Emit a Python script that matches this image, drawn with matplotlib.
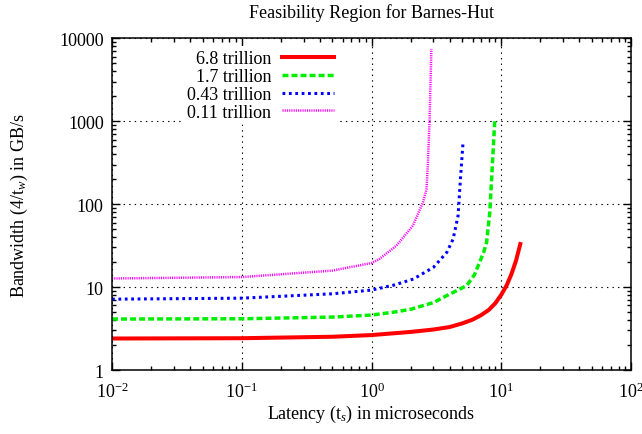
import matplotlib
matplotlib.use("Agg")
import matplotlib.pyplot as plt
from matplotlib.ticker import LogLocator, FixedLocator, NullFormatter

plt.rcParams['font.family'] = ['Liberation Serif', 'DejaVu Serif']
plt.rcParams['mathtext.fontset'] = 'custom'
plt.rcParams['mathtext.rm'] = 'Liberation Serif'
plt.rcParams['mathtext.it'] = 'Liberation Serif:italic'
plt.rcParams['lines.scale_dashes'] = False

# values (latency in microseconds, bandwidth in GB/s)
x_68 = [0.01, 0.1, 0.5, 1, 2, 3, 4, 5, 6, 7, 8, 9, 10, 11, 12, 13, 14]
y_68 = [2.40, 2.42, 2.52, 2.64, 2.88, 3.08, 3.3, 3.65, 4.05, 4.6, 5.3, 6.4, 8.1, 10.5, 14.5, 21, 33]

x_17 = [0.01, 0.1, 0.5, 1, 1.5, 2, 3, 3.8, 4.5, 5.4, 6.2, 6.8, 7.3, 7.7, 8.15, 8.55, 8.9]
y_17 = [4.12, 4.15, 4.35, 4.6, 5.0, 5.4, 6.5, 7.9, 9.0, 10.4, 14, 19.9, 26, 34.6, 79, 317, 1000]

x_043 = [0.01, 0.1, 0.5, 1, 1.5, 2.1, 3.0, 3.8, 4.25, 4.64, 4.84, 5.07]
y_043 = [7.15, 7.35, 8.3, 9.2, 10.6, 12.5, 17.3, 26.2, 37.9, 72, 200, 553]

x_011 = [0.01, 0.1, 0.5, 1, 1.15, 1.55, 2.08, 2.49, 2.65, 2.72, 2.80, 2.89]
y_011 = [12.7, 13.2, 15.8, 19.5, 21.8, 31.4, 54.8, 105, 150, 317, 1050, 7400]

labels = ['6.8 trillion', '1.7 trillion', '0.43 trillion', '0.11 trillion']

fs = 13

fig = plt.figure(figsize=(6.42, 4.35), dpi=100)
ax = fig.add_axes([0.1745, 0.147, 0.8085, 0.763])

ax.plot(x_68, y_68, '-', color='#ff0000', lw=2.9, label=labels[0])
ax.plot(x_17, y_17, color='#00ee00', lw=2.5, dashes=(4.3, 2.2), label=labels[1])
ax.plot(x_043, y_043, color='#0000ff', lw=2.2, dashes=(2.0, 2.6), label=labels[2])
ax.plot(x_011, y_011, color='#ff00ff', lw=1.8, dashes=(0.8, 0.8), label=labels[3])

ax.set_xscale('log')
ax.set_yscale('log')
ax.set_xlim(0.01, 100)
ax.set_ylim(1, 10000)

ax.xaxis.set_major_locator(LogLocator(base=10, numticks=10))
ax.xaxis.set_minor_locator(LogLocator(base=10, subs=range(2, 10), numticks=20))
ax.xaxis.set_minor_formatter(NullFormatter())
ax.yaxis.set_major_locator(FixedLocator([1, 10, 100, 1000, 10000]))
ax.yaxis.set_minor_locator(LogLocator(base=10, subs=range(2, 10), numticks=20))
ax.yaxis.set_minor_formatter(NullFormatter())
ax.set_yticklabels(['1', '10', '100', '1000', '10000'])

ax.tick_params(which='both', direction='in', top=True, right=True, labelsize=fs)
ax.tick_params(which='major', length=6, width=1)
ax.tick_params(which='minor', length=3, width=1)
ax.tick_params(axis='x', pad=8)
ax.tick_params(axis='y', pad=6)
for s in ax.spines.values():
    s.set_linewidth(1.1)

ax.grid(True, which='major', color='black', linestyle=(0, (1, 3)), linewidth=0.8)

ax.set_xlabel('Latency (t$_s$) in microseconds', fontsize=fs, labelpad=2)
ax.set_ylabel('Bandwidth (4/t$_w$) in GB/s', fontsize=fs, labelpad=21)
fig.text(0.578, 0.97, 'Feasibility Region for Barnes-Hut', ha='center', va='center', fontsize=fs)

# gnuplot key: opaque box without a border, hides the grid behind it
leg = ax.legend(loc='upper right', bbox_to_anchor=(0.435, 0.975), frameon=True, markerfirst=False,
                fontsize=fs, handlelength=2.9, handletextpad=0.6, labelspacing=0.05,
                borderaxespad=0, borderpad=0.2, fancybox=False)
leg.get_frame().set_edgecolor('none')
leg.get_frame().set_facecolor('white')
leg.get_frame().set_alpha(1)

fig.savefig('out.png', dpi=100)
